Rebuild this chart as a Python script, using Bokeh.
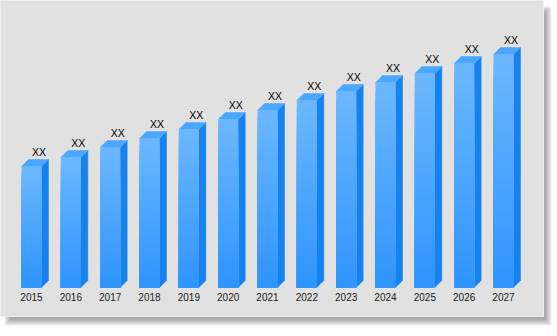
from bokeh.plotting import figure
from bokeh.models import Range1d, ColumnDataSource
from bokeh.core.properties import value
from bokeh.embed import file_html
from bokeh.resources import INLINE

# ---- data ----
years = ["2015", "2016", "2017", "2018", "2019", "2020", "2021",
         "2022", "2023", "2024", "2025", "2026", "2027"]
values = [12.1, 13.0, 14.0, 14.9, 15.8, 16.8, 17.7, 18.7, 19.6, 20.5, 21.4, 22.4, 23.3]
labels = ["XX"] * len(years)

W, H = 557, 336
X0, X1 = -0.788, 13.373
Y0, Y1 = -4.9, 28.7


def X(px):
    return X0 + px * (X1 - X0) / W


def Y(py):
    return Y1 - py * (Y1 - Y0) / H


p = figure(width=W, height=H, x_range=Range1d(X0, X1), y_range=Range1d(Y0, Y1),
           x_axis_type=None, y_axis_type=None, toolbar_location=None,
           output_backend="svg", min_border=0)
p.background_fill_color = "white"
p.border_fill_color = "white"
p.outline_line_color = None
p.grid.visible = False

# ---- shadow (layered) ----
for k in range(7):
    p.quad(left=X(4 + k), right=X(551 - k), top=Y(6 + k), bottom=Y(325 - k),
           fill_color="#444444", fill_alpha=0.08, line_color=None)

# ---- panel ----
p.quad(left=X(-2), right=X(543), top=Y(-2), bottom=Y(316),
       fill_color="#e1e1e1", line_color="#ededed", line_width=1)

# ---- bars ----
bw = 0.5085          # front width in x units (20 px)
dx = 7 * (X1 - X0) / W
dy = 7 * (Y1 - Y0) / H
idx = list(range(len(years)))

# side faces
side_xs, side_ys = [], []
for i, v in zip(idx, values):
    xr = i + bw / 2
    side_xs.append([xr, xr + dx, xr + dx, xr])
    side_ys.append([0, dy, v + dy, v])
p.patches(side_xs, side_ys, fill_color="#1682f0", line_color="#1682f0", line_width=0.5)

# top faces
top_xs, top_ys = [], []
for i, v in zip(idx, values):
    xl, xr = i - bw / 2, i + bw / 2
    top_xs.append([xl, xr, xr + dx, xl + dx])
    top_ys.append([v, v, v + dy, v + dy])
p.patches(top_xs, top_ys, fill_color="#4aa6ff", line_color="#4aa6ff", line_width=0.5)

# front faces with vertical gradient (overlapping strips, no seams)
c_top = (0x6c, 0xb8, 0xff)
c_bot = (0x2e, 0x94, 0xff)
n = 24
for k in range(n - 1, -1, -1):
    t = (k + 0.5) / n
    col = tuple(int(round(c_bot[j] + (c_top[j] - c_bot[j]) * t)) for j in range(3))
    hexc = "#%02x%02x%02x" % col
    src = ColumnDataSource(dict(
        left=[i - bw / 2 for i in idx], right=[i + bw / 2 for i in idx],
        bottom=[0 for v in values], top=[v * (k + 1) / n for v in values]))
    p.quad(left="left", right="right", bottom="bottom", top="top", source=src,
           fill_color=hexc, line_color=None)

# ---- labels ----
lab_src = ColumnDataSource(dict(x=idx, y=values, t=labels))
p.text(x="x", y="y", text="t", source=lab_src, x_offset=7.5, y_offset=-15,
       text_align="center", text_baseline="middle",
       text_font=value("Liberation Sans"), text_font_size=value("10.5px"),
       text_color="#000000")

yr_src = ColumnDataSource(dict(x=idx, y=[0] * len(idx), t=years))
p.text(x="x", y="y", text="t", source=yr_src, y_offset=9.5,
       text_align="center", text_baseline="middle",
       text_font=value("Liberation Sans"), text_font_size=value("10px"),
       text_color="#1a1a1a")

open("out.html", "w").write(file_html(p, INLINE))
